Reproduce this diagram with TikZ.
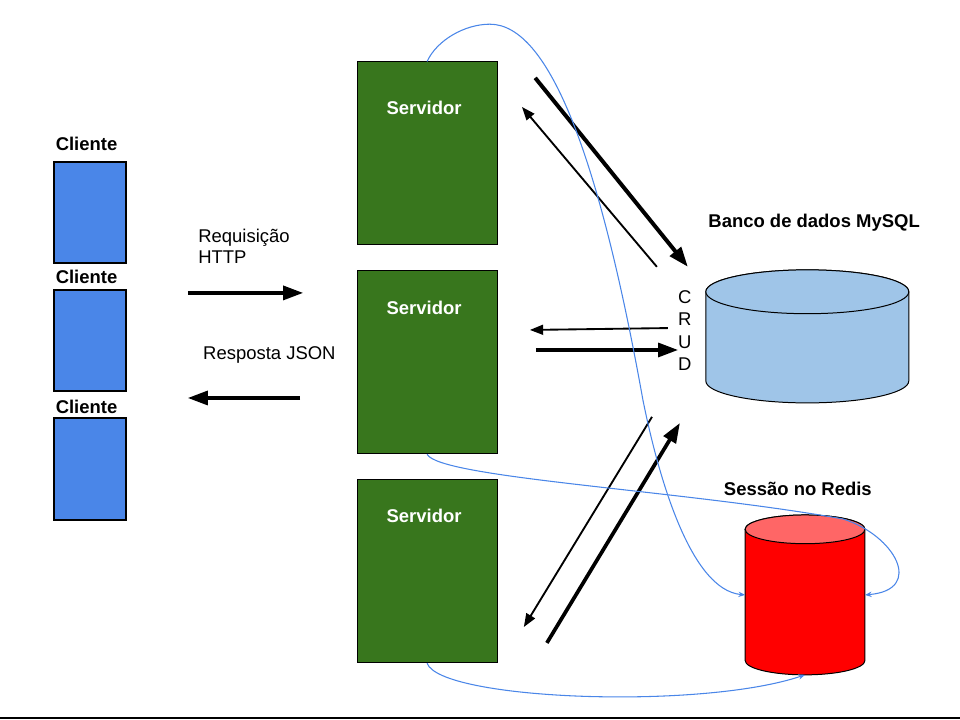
\documentclass[tikz,border=0pt]{standalone}
\usepackage{fontspec}
\setmainfont{Liberation Sans}
\usepackage{tikz}
\usetikzlibrary{positioning}
\usetikzlibrary{arrows.meta}

\definecolor{ClientBlue}{HTML}{4A86E8}
\definecolor{ServerGreen}{HTML}{38761D}
\definecolor{MysqlBlue}{HTML}{9FC5E8}
\definecolor{RedisRed}{HTML}{FF0000}
\definecolor{RedisTop}{HTML}{FF6666}
\definecolor{LinkBlue}{HTML}{4A86E8}

\tikzset{
	client/.style={draw, line width=1.5pt, fill=ClientBlue, minimum width=1.90cm, minimum height=2.68cm, inner sep=0pt},
	server/.style={draw, line width=0.75pt, fill=ServerGreen, minimum width=3.70cm, minimum height=4.84cm, inner sep=0pt},
	title/.style={font=\fontsize{13.9}{16}\selectfont\bfseries, inner sep=0pt},
	servertitle/.style={title, text=white},
	plain/.style={font=\fontsize{13.9}{15.75}\selectfont, inner sep=0pt},
	heavy/.style={line width=2.4pt, -{Triangle[length=15pt,width=10.5pt]}},
	light/.style={line width=1.4pt, -{Triangle[length=10pt,width=7.5pt]}},
	link/.style={draw=LinkBlue, line width=0.8pt, -{Stealth[length=5pt,width=4pt]}},
	dbframe/.style={inner sep=0pt, outer sep=0pt},
	dbside/.style={draw, line width=0.75pt},
}

\begin{document}
\begin{tikzpicture}

	\useasboundingbox (0.00cm,0.00cm) rectangle (25.40cm,-19.05cm);

	% ---------------------
	% Clientes
	\node[client] (Client1) at (2.38cm,-5.62cm) {};
	\node[client] (Client2) at (2.38cm,-9.01cm) {};
	\node[client] (Client3) at (2.38cm,-12.41cm) {};

	\node[title, anchor=base] (Client1Label) at (2.29cm,-3.97cm) {Cliente};
	\node[title, anchor=base] (Client2Label) at (2.29cm,-7.49cm) {Cliente};
	\node[title, anchor=base] (Client3Label) at (2.29cm,-10.93cm) {Cliente};

	% ---------------------
	% Servidores
	\node[server] (Server1) at (11.30cm,-4.06cm) {};
	\node[server, below=0.66cm of Server1] (Server2) {};
	\node[server, below=0.66cm of Server2] (Server3) {};

	\node[servertitle, anchor=base] (Server1Label) at (11.22cm,-3.03cm) {Servidor};
	\node[servertitle, anchor=base] (Server2Label) at (11.22cm,-8.32cm) {Servidor};
	\node[servertitle, anchor=base] (Server3Label) at (11.22cm,-13.82cm) {Servidor};

	% ---------------------
	% Bancos (cilindros)
	\node[dbframe, minimum width=5.37cm, minimum height=3.52cm] (MySQL) at (21.36cm,-8.90cm) {};
	\node[dbframe, minimum width=3.17cm, minimum height=4.23cm] (Redis) at (21.30cm,-15.74cm) {};

	\filldraw[dbside, fill=MysqlBlue] ([yshift=-0.58cm]MySQL.north west) -- ([yshift=0.58cm]MySQL.south west)
		arc[start angle=180, end angle=360, x radius=2.685cm, y radius=0.58cm]
		-- ([yshift=-0.58cm]MySQL.north east)
		arc[start angle=0, end angle=180, x radius=2.685cm, y radius=0.58cm] -- cycle;
	\filldraw[dbside, fill=MysqlBlue] ([yshift=-0.58cm]MySQL.north) ellipse[x radius=2.685cm, y radius=0.58cm];

	\filldraw[dbside, fill=RedisRed] ([yshift=-0.38cm]Redis.north west) -- ([yshift=0.38cm]Redis.south west)
		arc[start angle=180, end angle=360, x radius=1.585cm, y radius=0.38cm]
		-- ([yshift=-0.38cm]Redis.north east)
		arc[start angle=0, end angle=180, x radius=1.585cm, y radius=0.38cm] -- cycle;
	\filldraw[dbside, fill=RedisTop] ([yshift=-0.38cm]Redis.north) ellipse[x radius=1.585cm, y radius=0.38cm];

	\node[title, anchor=base] (MySQLLabel) at (21.54cm,-6.01cm) {Banco de dados MySQL};
	\node[title, anchor=base] (RedisLabel) at (21.11cm,-13.10cm) {Sessão no Redis};

	\node[plain, anchor=north, align=center, font=\fontsize{13.9}{16.7}\selectfont] (Crud) at (18.12cm,-7.69cm) {C\\R\\U\\D};

	% ---------------------
	% Cliente <-> Servidor
	\coordinate (RequestStart) at (4.97cm,-7.75cm);
	\path (RequestStart) +(3.05cm,0.00cm) coordinate (RequestEnd);
	\coordinate (ResponseStart) at (7.94cm,-10.53cm);
	\path (ResponseStart) +(-2.97cm,0.00cm) coordinate (ResponseEnd);

	\draw[heavy] (RequestStart) -- (RequestEnd);
	\draw[heavy] (ResponseStart) -- (ResponseEnd);

	\node[plain, anchor=north west, align=left] (RequestLabel) at (5.24cm,-6.06cm) {Requisição\\HTTP};
	\node[plain, anchor=base west] (ResponseLabel) at (5.37cm,-9.51cm) {Resposta JSON};

	% ---------------------
	% Servidor <-> MySQL (CRUD)
	\coordinate (TopQuery) at (14.16cm,-2.06cm);
	\path (TopQuery) +(4.04cm,-5.00cm) coordinate (TopQueryEnd);
	\coordinate (TopResult) at (17.38cm,-7.06cm);
	\path (TopResult) +(-3.57cm,4.23cm) coordinate (TopResultEnd);

	\coordinate (MidResult) at (17.67cm,-8.68cm);
	\path (MidResult) +(-3.65cm,-0.05cm) coordinate (MidResultEnd);
	\coordinate (MidQuery) at (14.18cm,-9.26cm);
	\path (MidQuery) +(3.76cm,0.00cm) coordinate (MidQueryEnd);

	\coordinate (LowResult) at (17.25cm,-11.03cm);
	\path (LowResult) +(-3.39cm,-5.56cm) coordinate (LowResultEnd);
	\coordinate (LowQuery) at (14.47cm,-17.01cm);
	\path (LowQuery) +(3.52cm,5.82cm) coordinate (LowQueryEnd);

	\draw[heavy, line width=3pt] (TopQuery) -- (TopQueryEnd);
	\draw[light] (TopResult) -- (TopResultEnd);
	\draw[light] (MidResult) -- (MidResultEnd);
	\draw[heavy] (MidQuery) -- (MidQueryEnd);
	\draw[light] (LowResult) -- (LowResultEnd);
	\draw[heavy, line width=2.8pt] (LowQuery) -- (LowQueryEnd);

	% ---------------------
	% Servidor -> Redis (sessao)
	\draw[link] (Server1.north) .. controls (11.56cm,-1.06cm) and (12.30cm,-0.64cm) .. (12.96cm,-0.64cm)
		.. controls (14.55cm,-0.64cm) and (15.87cm,-4.23cm) .. (17.01cm,-10.58cm)
		.. controls (17.41cm,-12.57cm) and (18.26cm,-15.61cm) .. (Redis.west);
	\draw[link] (Server2.south) .. controls (11.64cm,-12.65cm) and (17.99cm,-12.96cm) .. (22.30cm,-13.73cm)
		.. controls (23.68cm,-14.16cm) and (24.47cm,-15.61cm) .. (Redis.east);
	\draw[link] (Server3.south) .. controls (11.64cm,-18.52cm) and (18.52cm,-18.79cm) .. (Redis.south);

	% ---------------------
	% Borda
	\draw[line width=1.5pt] (0.00cm,-19.00cm) -- (25.40cm,-19.00cm);

\end{tikzpicture}
\end{document}
